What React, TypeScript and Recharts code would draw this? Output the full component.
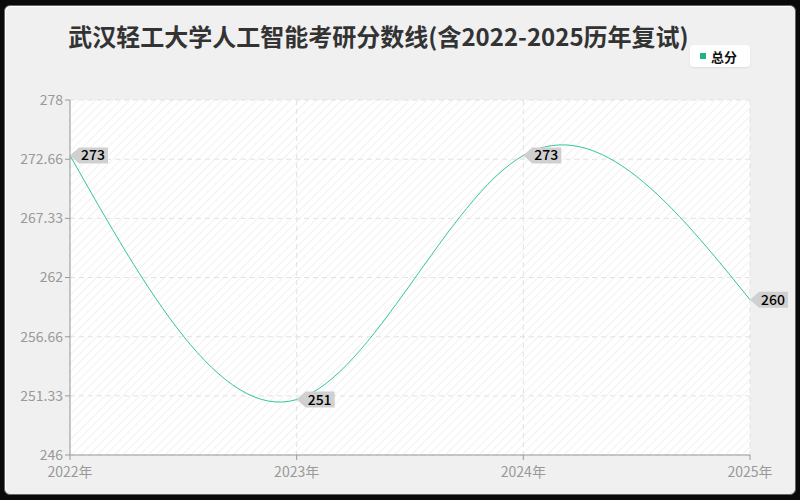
import { LineChart, Line, XAxis, YAxis, CartesianGrid, LabelList } from 'recharts'

const years = [2022, 2023, 2024, 2025]
const scores = [273, 251, 273, 260]
const yTicks = [246, 251.33, 256.66, 262, 267.33, 272.66, 278]

const data = years.map((y, i) => ({ year: y, score: scores[i] }))

const FONT = '"Noto Sans CJK SC", "Noto Sans", sans-serif'
const LINE = '#34c49c'

function TagLabel(props: any) {
  const { x, y, value } = props
  if (x == null || y == null) return null
  const w = 38
  const h = 16
  const path = `M${x},${y} L${x + 9},${y - h / 2} L${x + w},${y - h / 2} L${x + w},${y + h / 2} L${x + 9},${y + h / 2} Z`
  return (
    <g>
      <path d={path} fill="#d0d0d0" />
      <text x={x + 11} y={y + 5} fontSize={14} fontWeight={500} fill="#000" fontFamily={FONT}>
        {value}
      </text>
    </g>
  )
}

function YearTick(props: any) {
  const { x, y, payload } = props
  return (
    <text x={x} y={y + 15} textAnchor="middle" fontSize={14} fill="#999" fontFamily={FONT}>
      {payload.value}年
    </text>
  )
}

export default function App() {
  return (
    <div style={{ position: 'fixed', left: 0, top: 0, width: 800, height: 500, background: '#0a0a0a', fontFamily: FONT }}>
      <div
        style={{
          position: 'absolute',
          left: 4,
          top: 5,
          width: 790,
          height: 488,
          background: '#f0f0f0',
          border: '1px solid #666',
          borderRadius: 6,
          boxShadow: 'inset 1px 1px 0 #fff',
        }}
      />
      <div
        style={{
          position: 'absolute',
          left: 0,
          top: 18,
          width: 757,
          textAlign: 'center',
          fontSize: 24,
          fontWeight: 'bold',
          color: '#333',
        }}
      >
        武汉轻工大学人工智能考研分数线(含2022-2025历年复试)
      </div>
      <div
        style={{
          position: 'absolute',
          left: 690,
          top: 45,
          width: 60,
          height: 22,
          background: '#fff',
          borderRadius: 4,
          boxShadow: '0 1px 2px rgba(0,0,0,0.08)',
          display: 'flex',
          alignItems: 'center',
          fontSize: 13,
          fontWeight: 'bold',
          color: '#111',
        }}
      >
        <span style={{ display: 'inline-block', width: 6, height: 6, background: '#1db386', marginLeft: 10, marginRight: 5 }} />
        总分
      </div>
      <div style={{ position: 'absolute', left: 0, top: 0 }}>
        <LineChart width={800} height={500} data={data} margin={{ top: 100, right: 50, bottom: 0, left: 0 }}>
          <defs>
            <pattern id="hatch" width="6" height="6" patternUnits="userSpaceOnUse" patternTransform="rotate(45)">
              <rect width="6" height="6" fill="#ffffff" />
              <line x1="0" y1="0" x2="0" y2="6" stroke="#f1f1f1" strokeWidth="2" />
            </pattern>
          </defs>
          <CartesianGrid stroke="#e2e2e2" strokeDasharray="5 4" fill="url(#hatch)" fillOpacity={1} />
          <XAxis
            dataKey="year"
            type="number"
            domain={[2022, 2025]}
            ticks={years}
            height={45}
            tick={<YearTick />}
            stroke="#999"
            tickSize={5}
          />
          <YAxis
            domain={[246, 278]}
            ticks={yTicks}
            width={70}
            interval={0}
            tick={{ fill: '#999', fontSize: 14, fontFamily: FONT }}
            stroke="#999"
            tickSize={5}
          />
          <Line
            type="natural"
            dataKey="score"
            stroke={LINE}
            strokeWidth={1}
            dot={false}
            isAnimationActive={false}
          >
            <LabelList dataKey="score" content={TagLabel} />
          </Line>
        </LineChart>
      </div>
    </div>
  )
}
